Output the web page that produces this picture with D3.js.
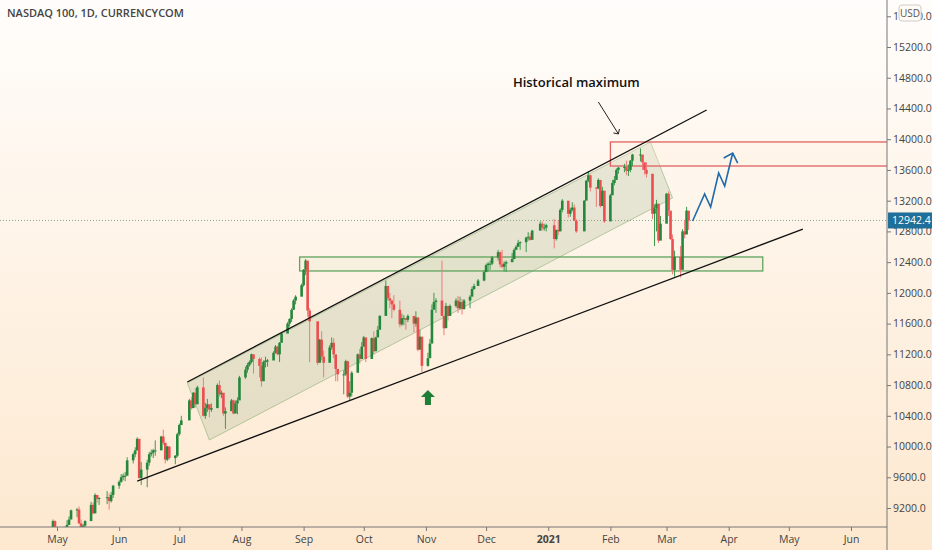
<!DOCTYPE html>
<html><head><meta charset="utf-8">
<script src="https://cdn.jsdelivr.net/npm/d3@7"></script>
<style>body{margin:0;overflow:hidden}svg{display:block}</style>
</head><body>
<script>
// Daily closes / highs / lows, week by week (Mon..Fri, holidays removed)
const closes = [
8830,8790,9030,8890,8720, 8800,8880,8980,9050,9170, 9180,9000,8860,8970,9030, 9240,9130,9370,9320,9330,
9340,9290,9370,9490, 9540,9600,9620,9620,9820, 9900,9950,10100,9590,9700, 9790,9900,9920,9950,9950,
10130,10050,9830,10000,9850, 9880,10160,10280,10340, 10600,10500,10700,10550,10770, 10400,10500,10550,10480,10500,
10800,10680,10700,10430,10460, 10600,10430,10560,10600,10900, 11000,11060,11100,11200,11140, 11050,10850,11100,11120,11120,
11220,11300,11200,11350,11470, 11600,11660,11780,11900,11950, 12100,12300,12420,11770,11630, 11090,11390,11170,11090,
11290,11350,11200,11010,10940, 10940,11110,10650,10700,10960, 11200,11140,11300,11420,11140, 11410,11240,11420,11520,11700,
12090,11930,11900,11850,11780, 11590,11670,11670,11650,11700, 11600,11680,11260,11430,11050, 11150,11340,11780,11880,11900,
11700,11540,11830,11700,11830, 11900,11800,11880,11790,11900, 11950,12050,12090,12160, 12270,12360,12380,12380,12460,
12530,12370,12340,12380,12400, 12440,12560,12600,12650,12660, 12720,12730,12690,12810, 12900,12850,12850,12880,
12700,12820,12800,13080,13200, 13030,13080,13110,12940,12800, 13200,13460,13530,13370, 13360,13470,13130,13330,12930,
13270,13430,13470,13600,13630, 13640,13590,13600,13720,13800, 13800,13700,13600,13550, 13030,13100,13160,12680,12900,
13290,13070,12700,12300,12470, 12300,12800,12760,13070,12940];
const highs = [
8900,8880,9050,9040,8830, 8830,8960,9040,9090,9180, 9200,9220,9050,8990,9040, 9280,9270,9390,9360,9340,
9420,9390,9410,9500, 9560,9640,9650,9670,9860, 9920,9990,10120,9990,9800, 9830,9930,9960,9970,10080,
10140,10220,10030,10010,10000, 9890,10180,10300,10400, 10620,10650,10710,10760,10790, 10900,10570,10620,10530,10560,
10820,10860,10730,10650,10510, 10620,10610,10600,10640,10920, 11040,11090,11120,11210,11160, 11160,11160,11120,11170,11140,
11240,11320,11310,11360,11480, 11620,11670,11800,11920,11970, 12120,12310,12440,12380,11800, 11400,11400,11500,11250,
11320,11420,11410,11090,11000, 10990,11130,11120,10850,10980, 11210,11270,11360,11440,11290, 11420,11500,11430,11570,11710,
12160,12080,12000,11910,11970, 11900,11730,11710,11670,11720, 11700,11760,11550,11520,11350, 11220,11400,11850,12000,11930,
12420,11680,11870,11800,11850, 11930,11960,11950,11920,11920, 11970,12080,12120,12180, 12290,12380,12400,12420,12480,
12560,12540,12560,12410,12420, 12520,12580,12620,12690,12670, 12730,12790,12780,12820, 12930,12930,12900,12900,
12960,12820,12950,13100,13220, 13120,13110,13180,13150,12960, 13210,13470,13580,13540, 13380,13490,13380,13380,13230,
13290,13470,13520,13620,13640, 13680,13720,13670,13730,13810, 13880,13780,13680,13700, 13280,13150,13210,13150,13000,
13300,13320,13050,12760,12550, 12610,12830,12950,13120,12970];
const lows = [
8740,8740,8850,8850,8680, 8660,8850,8880,8980,9080, 9080,8990,8780,8750,8890, 9120,9120,9180,9270,9240,
9250,9180,9270,9330, 9450,9530,9560,9550,9650, 9780,9860,9950,9580,9500, 9470,9750,9870,9850,9880,
9960,10020,9780,9810,9830, 9770,9860,10140,10300, 10480,10480,10550,10510,10570, 10390,10360,10450,10380,10450,
10500,10650,10630,10400,10230, 10500,10420,10460,10420,10700, 10880,10960,11040,11080,10950, 10900,10780,10940,11030,11040,
11140,11210,11190,11100,11350, 11520,11560,11620,11780,11850, 11960,12080,12230,11690,11100, 11060,11190,11120,10900,
11170,11260,11150,10850,10850, 10680,10920,10630,10600,10650, 11060,11080,11150,11300,11100, 11180,11200,11290,11430,11580,
11720,11900,11800,11670,11760, 11550,11570,11580,11520,11620, 11490,11560,11240,11280,10970, 11040,11180,11600,11820,11740,
11700,11450,11620,11640,11700, 11810,11740,11780,11720,11780, 11800,11960,12040,12090, 12150,12280,12280,12300,12360,
12420,12330,12320,12280,12270, 12400,12440,12570,12600,12560, 12530,12680,12680,12740, 12830,12810,12810,12800,
12580,12680,12750,12870,13050, 12980,12990,13060,12940,12780, 13010,13370,13440,13320, 13120,13350,13110,13150,12910,
12960,13360,13400,13500,13550, 13570,13530,13520,13570,13650, 13710,13600,13540,13500, 12960,12610,12800,12650,12700,
12940,13000,12690,12240,12210, 12200,12450,12710,12840,12820];
const firstOpen = 8780;
const holidays = ["2020-05-25","2020-07-03","2020-09-07","2020-11-26","2020-12-25","2021-01-01","2021-01-18","2021-02-15"];
const yTicks = [9200,9600,10000,10400,10800,11200,11600,12000,12400,12800,13200,13600,14000,14400,14800,15200,15600];
const xTickDates = ["2020-05-01","2020-06-01","2020-07-01","2020-08-01","2020-09-01","2020-10-01","2020-11-01","2020-12-01","2021-01-01","2021-02-01","2021-03-01","2021-04-01","2021-05-01","2021-06-01"];
const xTickLabels = ["May","Jun","Jul","Aug","Sep","Oct","Nov","Dec","2021","Feb","Mar","Apr","May","Jun"];
const lastPrice = 12942.4;
// annotations in [date, price]
const upperLine = [["2020-07-05",10840],["2021-03-21",14380]];
const lowerLine = [["2020-06-10",9551],["2021-05-08",12831]];
const channel = [["2020-07-05",10827],["2021-02-21",13964],["2021-03-04",13235],["2020-07-16",10085]];
const greenBox = [["2020-08-30",12467],["2021-04-18",12285]];
const redBox = [["2021-02-01",13964],[null,13651]];
const forecast = [["2021-03-14",12935],["2021-03-20",13287],["2021-03-23",13118],["2021-03-27",13560],["2021-03-30",13391],["2021-04-03",13820]];
const maxArrow = [["2021-01-26",14484],["2021-02-05",14068]];
const maxLabel = ["2021-01-15",14745,"Historical maximum"];
const upArrowAt = ["2020-11-02",10632];

const W=932,H=550, axisX=887, axisY=527;
const P = d3.timeParse("%Y-%m-%d");
const x = d3.scaleTime().domain([P("2020-05-01"),P("2021-06-01")]).range([57,851]);
const y = d3.scaleLinear().domain([9200,15200]).range([508,47]);

// trading days
const hol = new Set(holidays);
const days = d3.timeDay.range(P("2020-04-27"),P("2021-03-13")).filter(d=>d.getDay()>0&&d.getDay()<6&&!hol.has(d3.timeFormat("%Y-%m-%d")(d)));
const n = Math.min(days.length, closes.length);
const data = d3.range(n).map(i=>({d:days[i],o:i?closes[i-1]:firstOpen,h:highs[i],l:lows[i],c:closes[i]}));

const svg = d3.select("body").append("svg").attr("width",W).attr("height",H);
const defs = svg.append("defs");
const g = defs.append("linearGradient").attr("id","bg").attr("x1",0).attr("x2",0).attr("y1",0).attr("y2",1);
g.append("stop").attr("offset","0").attr("stop-color","#fffdfb");
g.append("stop").attr("offset","1").attr("stop-color","#fde8cf");
defs.append("clipPath").attr("id","clip").append("rect").attr("width",axisX).attr("height",axisY);
svg.append("rect").attr("width",W).attr("height",H).attr("fill","url(#bg)");

const plot = svg.append("g").attr("clip-path","url(#clip)");
const pt = p=>[x(P(p[0])), y(p[1])];

// channel shade
plot.append("polygon").attr("points",channel.map(p=>pt(p).join(",")).join(" "))
 .attr("fill","rgba(160,180,140,0.25)").attr("stroke","rgba(140,175,120,0.6)").attr("stroke-width",1);
// green box
plot.append("rect").attr("x",x(P(greenBox[0][0]))).attr("y",y(greenBox[0][1]))
 .attr("width",x(P(greenBox[1][0]))-x(P(greenBox[0][0]))).attr("height",y(greenBox[1][1])-y(greenBox[0][1]))
 .attr("fill","rgba(200,220,170,0.12)").attr("stroke","#5ea35e").attr("stroke-width",1.3);
// red box
plot.append("rect").attr("x",x(P(redBox[0][0]))).attr("y",y(redBox[0][1]))
 .attr("width",axisX-x(P(redBox[0][0]))+2).attr("height",y(redBox[1][1])-y(redBox[0][1]))
 .attr("fill","rgba(255,240,220,0.3)").attr("stroke","#e06060").attr("stroke-width",1.3);
// last price dotted line
plot.append("line").attr("x1",0).attr("x2",axisX).attr("y1",y(lastPrice)).attr("y2",y(lastPrice))
 .attr("stroke","#8aa88a").attr("stroke-dasharray","1,2").attr("stroke-width",1);

// candles
const cg = plot.append("g");
data.forEach(k=>{
  const up = k.c>=k.o, col = up?"#25873b":"#eb4e4e", cx = x(k.d);
  cg.append("line").attr("x1",cx).attr("x2",cx).attr("y1",y(k.h)).attr("y2",y(k.l)).attr("stroke",up?"#3d9a4c":"#ef7b7b").attr("stroke-width",1);
  const t=y(Math.max(k.o,k.c)), b=y(Math.min(k.o,k.c));
  cg.append("rect").attr("x",cx-1.3).attr("width",2.6).attr("y",t).attr("height",Math.max(1,b-t)).attr("fill",col);
});

// trend lines
[upperLine,lowerLine].forEach(L=>plot.append("line").attr("x1",pt(L[0])[0]).attr("y1",pt(L[0])[1]).attr("x2",pt(L[1])[0]).attr("y2",pt(L[1])[1]).attr("stroke","#111").attr("stroke-width",1.3));

// forecast path
const fp = forecast.map(pt);
plot.append("path").attr("d",d3.line()(fp)).attr("fill","none").attr("stroke","#1f6bad").attr("stroke-width",1.6);
const tip=fp[fp.length-1];
plot.append("path").attr("d",`M${tip[0]-9},${tip[1]+5}L${tip[0]},${tip[1]}L${tip[0]+5},${tip[1]+10}`).attr("fill","none").attr("stroke","#1f6bad").attr("stroke-width",1.6);

// Historical maximum arrow & label
const a0=pt(maxArrow[0]), a1=pt(maxArrow[1]);
plot.append("line").attr("x1",a0[0]).attr("y1",a0[1]).attr("x2",a1[0]).attr("y2",a1[1]).attr("stroke","#222").attr("stroke-width",1);
plot.append("path").attr("d",`M${a1[0]-5},${a1[1]-1}L${a1[0]},${a1[1]}L${a1[0]+1},${a1[1]-5}`).attr("fill","none").attr("stroke","#222").attr("stroke-width",1);
const ml=pt(maxLabel);
plot.append("text").attr("x",ml[0]).attr("y",ml[1]+5).attr("text-anchor","middle").attr("font-family","Open Sans, sans-serif")
 .attr("font-size",13).attr("font-weight",600).attr("fill","#111").text(maxLabel[2]);

// green up arrow
const ua=pt(upArrowAt);
plot.append("path").attr("d",`M${ua[0]},${ua[1]-8}L${ua[0]+7},${ua[1]-1}L${ua[0]+3},${ua[1]-1}L${ua[0]+3},${ua[1]+7}L${ua[0]-3},${ua[1]+7}L${ua[0]-3},${ua[1]-1}L${ua[0]-7},${ua[1]-1}Z`).attr("fill","#1d7f35");

// axes
svg.append("line").attr("x1",axisX).attr("x2",axisX).attr("y1",0).attr("y2",H).attr("stroke","#777");
svg.append("line").attr("x1",0).attr("x2",axisX).attr("y1",axisY).attr("y2",axisY).attr("stroke","#777");
const ya = svg.append("g").attr("transform",`translate(${axisX},0)`)
 .call(d3.axisRight(y).tickValues(yTicks).tickSize(4).tickFormat(d3.format(".1f")));
ya.select(".domain").remove();
ya.selectAll("line").attr("stroke","#777");
ya.selectAll("text").attr("font-family","Open Sans, sans-serif").attr("font-size",10.5).attr("fill","#444").attr("x",6);
const xa = svg.append("g").attr("transform",`translate(0,${axisY})`)
 .call(d3.axisBottom(x).tickValues(xTickDates.map(P)).tickSize(4).tickFormat((d,i)=>xTickLabels[i]));
xa.select(".domain").remove();
xa.selectAll("line").attr("stroke","#777");
xa.selectAll("text").attr("font-family","Open Sans, sans-serif").attr("font-size",10.5).attr("fill","#444").attr("dy","0.9em")
 .attr("font-weight",(d,i)=>xTickLabels[i]==="2021"?700:400);

// USD box
svg.append("rect").attr("x",899).attr("y",5).attr("width",22).attr("height",16).attr("rx",3).attr("fill","#fffaf4").attr("stroke","#ccc");
svg.append("text").attr("x",910).attr("y",17).attr("text-anchor","middle").attr("font-family","Open Sans, sans-serif").attr("font-size",10).attr("fill","#555").text("USD");

// last price label
svg.append("rect").attr("x",axisX+1).attr("y",y(lastPrice)-8).attr("width",44).attr("height",16).attr("fill","#1e6f9a");
svg.append("text").attr("x",axisX+5).attr("y",y(lastPrice)+4).attr("font-family","Open Sans, sans-serif").attr("font-size",10.5).attr("fill","#fff").text(d3.format(".1f")(lastPrice));

// title
svg.append("text").attr("x",7).attr("y",17).attr("font-family","Open Sans, sans-serif").attr("font-size",11).attr("font-weight",600).attr("fill","#444").text("NASDAQ 100, 1D, CURRENCYCOM");
</script>
</body></html>
